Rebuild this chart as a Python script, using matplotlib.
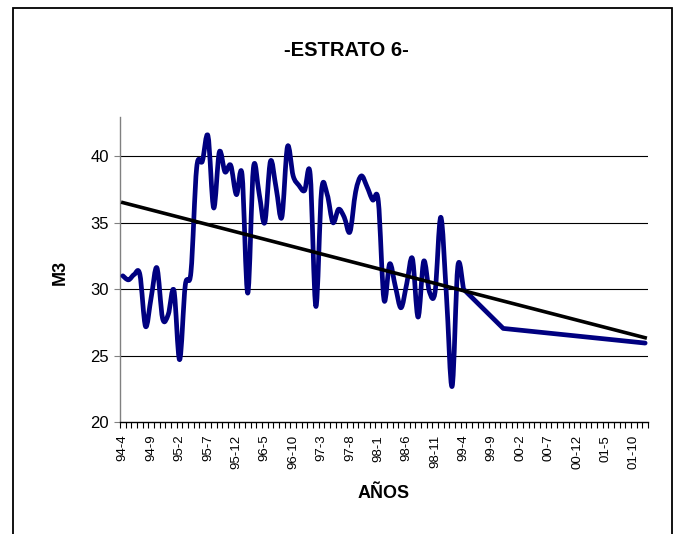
import numpy as np
import matplotlib
matplotlib.use("Agg")
import matplotlib.pyplot as plt
from matplotlib.path import Path
from matplotlib.patches import PathPatch, Rectangle

plt.rcParams['font.family'] = ['Liberation Sans', 'DejaVu Sans']

# monthly categories 94-4 .. 01-12, None where no reading was taken
volumen = [
    31.0, 30.7, 31.1, 31.1, 27.2, 29.4, 31.6, 27.8, 28.1, 29.9,
    24.7, 30.3, 31.3, 39.1, 39.6, 41.5, 36.1, 40.3, 38.8, 39.3,
    37.1, 38.6, 29.7, 39.1, 37.2, 35.0, 39.6, 37.6, 35.4, 40.7,
    38.5, 37.8, 37.4, 38.6, 28.7, 37.4, 37.1, 35.0, 36.0, 35.4,
    34.3, 37.3, 38.5, 37.7, 36.7, 36.6, 29.2, 31.9, 30.2, 28.6,
    30.4, 32.3, 27.9, 32.1, 29.8, 29.8, 35.4, 29.5, 22.7, 31.7,
    30.0, None, None, None, None, None, None, 27.05, None, None,
    None, None, None, None, None, None, None, None, None, None,
    None, None, None, None, None, None, None, None, None, None,
    None, None, 25.95,
]
# linear trend value at the first and last category
tendencia = [36.5, 26.35]
etiquetas = ['94-4', '94-9', '95-2', '95-7', '95-12', '96-5', '96-10',
             '97-3', '97-8', '98-1', '98-6', '98-11', '99-4', '99-9',
             '00-2', '00-7', '00-12', '01-5', '01-10']
y_ticks = [20, 25, 30, 35, 40]


def smooth_path(x, y):
    # smoothed bezier inside each run of consecutive months,
    # plain straight segments across the missing months
    pts = np.column_stack([x, y])
    runs = []
    start = 0
    for i in range(1, len(pts)):
        if x[i] - x[i - 1] > 1:
            runs.append(pts[start:i])
            start = i
    runs.append(pts[start:])

    verts, codes = [], []
    for r in runs:
        verts.append(r[0])
        codes.append(Path.MOVETO if not verts[:-1] else Path.LINETO)
        n = len(r)
        for i in range(n - 1):
            p0 = r[i - 1] if i > 0 else r[i]
            p1, p2 = r[i], r[i + 1]
            p3 = r[i + 2] if i + 2 < n else r[i + 1]
            verts += [p1 + (p2 - p0) / 6.0, p2 - (p3 - p1) / 6.0, p2]
            codes += [Path.CURVE4] * 3
    return Path(verts, codes)


n_cat = len(volumen)
idx = np.array([i for i, v in enumerate(volumen) if v is not None], dtype=float)
vals = np.array([v for v in volumen if v is not None], dtype=float)

fig = plt.figure(figsize=(6.8, 5.34), dpi=100)
ax = fig.add_axes([120 / 680, 1 - 422.3 / 534, 528 / 680, 305.6 / 534])

for g in y_ticks[1:]:
    ax.axhline(g, color='black', lw=0.8, zorder=1)

ax.add_patch(PathPatch(smooth_path(idx, vals), fill=False, edgecolor='#000080',
                       lw=3.4, capstyle='round', joinstyle='round', zorder=3))

ax.plot([0, n_cat - 1], tendencia, color='black', lw=2.6, zorder=4)

ax.set_xlim(-0.5, n_cat - 0.5)
ax.set_ylim(20, 42.95)

ax.set_xticks(np.arange(0, len(etiquetas) * 5, 5))
ax.set_xticklabels(etiquetas, rotation=90, fontsize=9.5)
ax.set_xticks(np.arange(-0.5, n_cat, 1), minor=True)
ax.tick_params(axis='x', which='major', length=0, pad=9)
ax.tick_params(axis='x', which='minor', length=4, width=0.8, direction='out')
ax.set_yticks(y_ticks)
ax.set_yticklabels([str(t) for t in y_ticks], fontsize=12)
ax.tick_params(axis='y', length=4, width=0.8, pad=4, color='#808080')

for s in ['top', 'right']:
    ax.spines[s].set_visible(False)
ax.spines['left'].set_color('#808080')
ax.spines['left'].set_linewidth(1.0)
ax.spines['bottom'].set_color('black')
ax.spines['bottom'].set_linewidth(1.0)

fig.text(346 / 680, 1 - 50 / 534, '-ESTRATO 6-', ha='center', va='center',
         fontsize=14.5, fontweight='bold')
fig.text(384 / 680, 1 - 494 / 534, 'AÑOS', ha='center', va='center',
         fontsize=13, fontweight='bold')
fig.text(60 / 680, 1 - 272 / 534, 'M3', ha='center', va='center',
         fontsize=13, fontweight='bold', rotation=90)

# outer chart border
fig.patches.append(Rectangle((13 / 680, -0.05), 659 / 680, 1.05 - 8 / 534,
                             transform=fig.transFigure, fill=False,
                             edgecolor='black', lw=1.3))

fig.savefig('out.png', dpi=100)
